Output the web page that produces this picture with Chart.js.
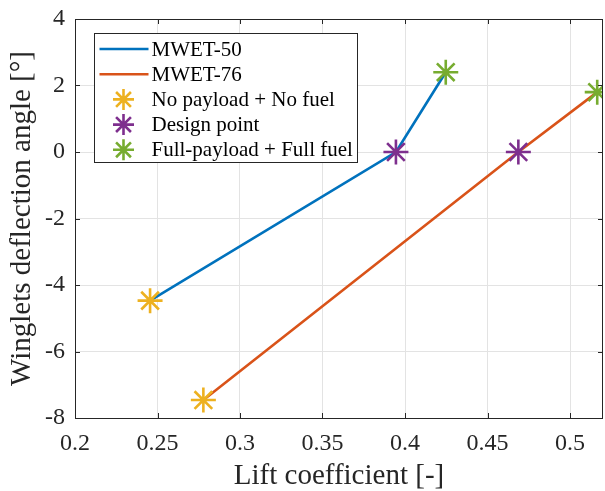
<!DOCTYPE html>
<html>
<head>
  <script src="https://cdn.jsdelivr.net/npm/chart.js@4.4.0/dist/chart.umd.min.js"></script>
  <style>
    html, body { margin: 0; padding: 0; background: #fff; }
    .wrap { width: 605px; height: 491px; }
  </style>
</head>
<body>
  <div class="wrap"><canvas id="c" width="605" height="491"></canvas></div>
  <script>
    // data
    const configs = ['MWET-50', 'MWET-76'];
    const lift50 = [0.2455, 0.3945, 0.4247];
    const angle50 = [-4.47, 0, 2.40];
    const lift76 = [0.2778, 0.4687, 0.5165];
    const angle76 = [-7.46, 0, 1.80];
    const conditions = ['No payload + No fuel', 'Design point', 'Full-payload + Full fuel'];
    const xTicks = [0.2, 0.25, 0.3, 0.35, 0.4, 0.45, 0.5];
    const yTicks = [-8, -6, -4, -2, 0, 2, 4];

    const lineColors = ['#0072BD', '#D95319'];
    const markColors = ['#EDB120', '#7E2F8E', '#77AC30'];
    const ink = '#262626';
    const serif = "'Liberation Serif', 'Times New Roman', serif";

    const pts = (xs, ys) => xs.map((x, i) => ({ x: x, y: ys[i] }));

    const datasets = [
      {
        label: configs[0], data: pts(lift50, angle50), showLine: true,
        borderColor: lineColors[0], borderWidth: 2.6, pointRadius: 0, order: 2
      },
      {
        label: configs[1], data: pts(lift76, angle76), showLine: true,
        borderColor: lineColors[1], borderWidth: 2.6, pointRadius: 0, order: 2
      }
    ];
    conditions.forEach((name, i) => {
      datasets.push({
        label: name,
        data: [{ x: lift50[i], y: angle50[i] }, { x: lift76[i], y: angle76[i] }],
        showLine: false, pointStyle: 'star', pointRadius: 12.5,
        borderColor: markColors[i], backgroundColor: markColors[i],
        pointBorderWidth: 2.6, order: 1
      });
    });

    function star(ctx, x, y, r) {
      const d = r * Math.SQRT1_2;
      ctx.beginPath();
      ctx.moveTo(x - r, y); ctx.lineTo(x + r, y);
      ctx.moveTo(x, y - r); ctx.lineTo(x, y + r);
      ctx.moveTo(x - d, y - d); ctx.lineTo(x + d, y + d);
      ctx.moveTo(x - d, y + d); ctx.lineTo(x + d, y - d);
      ctx.stroke();
    }

    // box, inward ticks and the legend inside the axes
    const frame = {
      id: 'frame',
      afterDatasetsDraw(chart) {
        const { ctx, chartArea: a, scales } = chart;
        ctx.save();
        ctx.strokeStyle = ink;
        ctx.lineWidth = 1;
        ctx.beginPath();
        xTicks.forEach(v => {
          const px = Math.round(scales.x.getPixelForValue(v)) + 0.5;
          ctx.moveTo(px, a.bottom); ctx.lineTo(px, a.bottom - 5);
          ctx.moveTo(px, a.top); ctx.lineTo(px, a.top + 5);
        });
        yTicks.forEach(v => {
          const py = Math.round(scales.y.getPixelForValue(v)) + 0.5;
          ctx.moveTo(a.left, py); ctx.lineTo(a.left + 5, py);
          ctx.moveTo(a.right, py); ctx.lineTo(a.right - 5, py);
        });
        ctx.stroke();
        ctx.strokeRect(Math.round(a.left) + 0.5, Math.round(a.top) + 0.5,
          Math.round(a.right - a.left) - 1, Math.round(a.bottom - a.top));

        // legend
        const fs = 21;
        ctx.font = fs + 'px ' + serif;
        const labels = configs.concat(conditions);
        const maxW = Math.max(...labels.map(t => ctx.measureText(t).width));
        const bx = Math.round(a.left + 18.5) + 0.5, by = Math.round(a.top + 13.5) + 0.5;
        const rowH = 25.2;
        const bw = Math.round(57 + maxW + 5), bh = Math.round(rowH * labels.length + 3);
        ctx.fillStyle = '#fff';
        ctx.fillRect(bx, by, bw, bh);
        ctx.strokeStyle = ink;
        ctx.strokeRect(bx, by, bw, bh);
        ctx.textBaseline = 'middle';
        labels.forEach((t, i) => {
          const cy = by + 15.5 + i * rowH;
          ctx.lineWidth = 2.6;
          if (i < 2) {
            ctx.strokeStyle = lineColors[i];
            ctx.beginPath(); ctx.moveTo(bx + 5, cy); ctx.lineTo(bx + 54, cy); ctx.stroke();
          } else {
            ctx.strokeStyle = markColors[i - 2];
            star(ctx, bx + 29, cy, 10.5);
          }
          ctx.fillStyle = '#000';
          ctx.fillText(t, bx + 57, cy + 1);
        });
        ctx.restore();
      }
    };

    new Chart(document.getElementById('c'), {
      type: 'scatter',
      data: { datasets: datasets },
      plugins: [frame],
      options: {
        responsive: false,
        animation: false,
        layout: { autoPadding: false, padding: { top: 19, right: 2, left: 0, bottom: 0 } },
        plugins: { legend: { display: false }, tooltip: { enabled: false } },
        scales: {
          x: {
            type: 'linear', min: 0.2, max: 0.52,
            afterFit: s => { s.height = 73; s.paddingLeft = 0; s.paddingRight = 0; },
            afterBuildTicks: s => { s.ticks = xTicks.map(v => ({ value: v })); },
            ticks: {
              color: ink, padding: 11,
              font: { family: serif, size: 24 },
              callback: v => String(+v.toFixed(2))
            },
            grid: { color: '#e3e3e3', drawTicks: false },
            border: { display: false },
            title: {
              display: true, text: 'Lift coefficient [-]', color: ink,
              font: { family: serif, size: 29, lineHeight: 1 }, padding: { top: 0, bottom: 0 }
            }
          },
          y: {
            type: 'linear', min: -8, max: 4,
            afterFit: s => { s.width = 75; s.paddingTop = 0; s.paddingBottom = 0; },
            afterBuildTicks: s => { s.ticks = yTicks.map(v => ({ value: v })); },
            ticks: {
              color: ink, padding: 10,
              font: { family: serif, size: 24 }
            },
            grid: { color: '#e3e3e3', drawTicks: false },
            border: { display: false },
            title: {
              display: true, text: 'Winglets deflection angle [°]', color: ink,
              font: { family: serif, size: 29, lineHeight: 1 }, padding: { top: 8, bottom: 0 }
            }
          }
        }
      }
    });
  </script>
</body>
</html>
